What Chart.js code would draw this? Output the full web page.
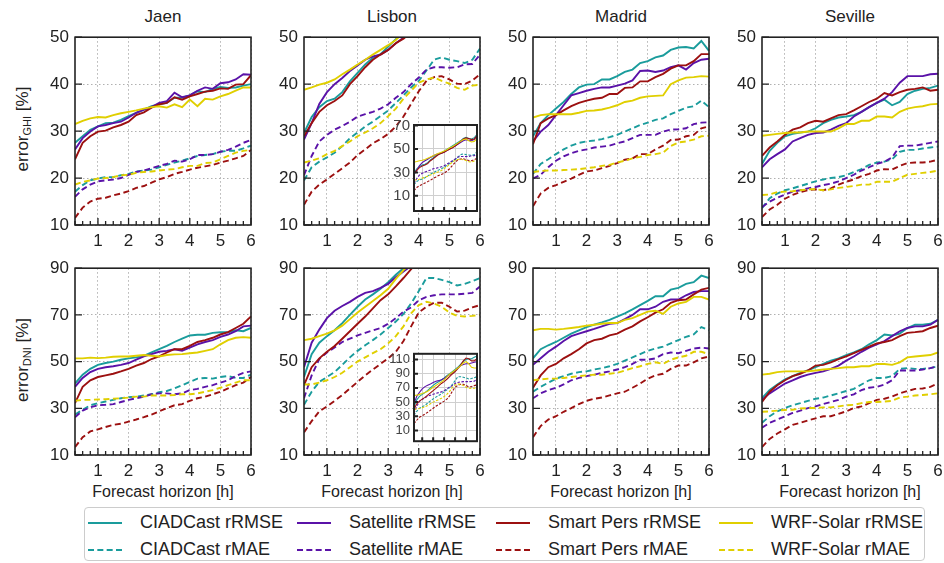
<!DOCTYPE html>
<html>
<head>
<meta charset="utf-8">
<script src="https://cdn.jsdelivr.net/npm/chart.js@4.4.1/dist/chart.umd.min.js"></script>
<style>
  body { margin: 0; background: #fff; font-family: 'Liberation Sans', Arial, sans-serif; color: #222; }
  #fig { position: relative; width: 944px; height: 563px; overflow: hidden; }
  canvas { position: absolute; }
  .site { position: absolute; top: 7px; width: 176px; text-align: center; font-size: 17px; }
  .xlab { position: absolute; top: 483px; width: 176px; text-align: center; font-size: 16px; }
  .ylab { position: absolute; left: 23px; font-size: 17px; white-space: nowrap; transform: translate(-50%, -50%) rotate(-90deg); }
  .ylab sub { font-size: 11px; vertical-align: -3px; }
  #legend { position: absolute; left: 84px; top: 507px; width: 841px; height: 54px; border: 1px solid #ccc; border-radius: 4px; box-sizing: border-box; }
  .item { position: absolute; font-size: 18px; line-height: 20px; white-space: nowrap; }
  .swatch { position: absolute; width: 34px; height: 0; top: 10px; border-top-width: 2px; }
</style>
</head>
<body>
<div id="fig">
  <div class="site" style="left:75px">Jaen</div>
  <div class="site" style="left:304px">Lisbon</div>
  <div class="site" style="left:533px">Madrid</div>
  <div class="site" style="left:762px">Seville</div>
  <div class="ylab" style="top:129px">error<sub>GHI</sub> [%]</div>
  <div class="ylab" style="top:360px">error<sub>DNI</sub> [%]</div>
  <div class="xlab" style="left:75px">Forecast horizon [h]</div>
  <div class="xlab" style="left:304px">Forecast horizon [h]</div>
  <div class="xlab" style="left:533px">Forecast horizon [h]</div>
  <div class="xlab" style="left:762px">Forecast horizon [h]</div>
  <div id="legend"></div>
</div>
<script>
// forecast horizons, 15 min steps
const HOURS = [0.25, 0.5, 0.75, 1, 1.25, 1.5, 1.75, 2, 2.25, 2.5, 2.75, 3, 3.25, 3.5, 3.75, 4, 4.25, 4.5, 4.75, 5, 5.25, 5.5, 5.75, 6];
const HOUR_TICKS = [1, 2, 3, 4, 5, 6];
const SITES = ['Jaen', 'Lisbon', 'Madrid', 'Seville'];
const MODELS = ['CIADCast', 'Satellite', 'Smart Pers', 'WRF-Solar'];

// Jaen GHI
const jaenGhiCiadRmse = [27.5,28.9,30.3,31.0,31.7,31.8,32.4,33.2,33.9,34.6,35.3,35.7,36.0,37.1,37.1,37.6,38.5,38.3,39.0,39.4,39.2,39.3,39.7,40.0];
const jaenGhiCiadMae  = [17.1,18.5,19.5,19.9,20.2,20.2,20.6,20.9,21.4,21.6,21.8,22.3,22.8,23.3,23.7,24.2,24.7,24.9,25.1,25.6,25.8,25.8,26.3,26.9];
const jaenGhiSatRmse  = [26.1,28.5,29.9,31.0,31.3,31.7,32.0,32.9,33.9,34.6,35.1,36.0,36.4,38.2,37.2,37.6,38.6,39.3,39.0,40.2,40.4,41.0,42.1,42.0];
const jaenGhiSatMae   = [16.0,17.6,18.6,19.3,19.5,19.7,20.0,20.7,21.3,21.6,22.1,22.6,23.0,23.7,23.5,24.0,24.9,24.9,25.1,25.6,26.0,26.7,27.5,28.1];
const jaenGhiPersRmse = [24.0,27.5,28.9,29.9,30.1,30.8,31.3,32.0,33.4,34.0,35.0,35.7,36.0,37.2,36.7,37.4,37.9,38.4,38.6,39.1,39.0,39.9,40.0,41.9];
const jaenGhiPersMae  = [11.5,13.7,15.0,15.6,15.8,16.3,16.7,17.2,17.9,18.3,19.0,19.7,20.2,20.9,21.3,21.8,22.2,22.5,22.8,23.3,23.7,24.2,24.7,26.0];
const jaenGhiWrfRmse  = [31.5,32.2,32.7,33.0,32.9,33.4,33.8,34.1,34.4,34.8,35.1,35.3,35.0,35.7,35.1,36.7,35.3,36.9,36.7,37.4,37.9,38.6,39.3,39.3];
const jaenGhiWrfMae   = [18.6,19.2,19.5,19.9,20.0,20.2,20.6,20.7,21.1,21.3,21.4,21.6,21.8,21.9,22.3,22.6,22.6,23.2,23.3,24.0,24.7,25.4,25.8,26.0];

// Lisbon GHI
const lisbonGhiCiadRmse = [29.6,33.0,35.1,36.4,36.9,38.3,40.6,42.4,44.2,45.6,46.4,48.0,49.6,51.0,52.5,54.0,55.5,57.0,59.0,60.0,59.0,58.5,59.5,62.5];
const lisbonGhiCiadMae  = [19.5,22.3,23.5,24.4,25.4,26.8,28.5,29.7,31.0,32.0,33.2,34.4,36.0,37.6,39.3,40.7,42.9,45.2,45.7,45.2,44.9,44.5,45.2,47.6];
const lisbonGhiSatRmse  = [28.2,31.7,35.8,38.3,40.0,41.3,42.8,44.0,45.2,45.9,46.3,47.3,48.7,49.9,51.0,52.5,54.0,55.5,57.0,58.0,57.5,57.0,58.0,61.0];
const lisbonGhiSatMae   = [20.6,24.7,27.8,29.2,30.3,31.1,32.0,33.1,33.6,34.1,34.8,35.7,37.1,38.3,40.0,41.4,43.1,43.6,43.6,43.5,43.6,44.2,44.3,46.3];
const lisbonGhiPersRmse = [28.9,31.7,34.1,35.5,36.4,37.6,40.0,41.7,43.6,45.2,46.3,47.3,48.7,49.7,51.0,52.5,54.5,56.5,58.5,59.5,59.0,58.0,58.5,61.5];
const lisbonGhiPersMae  = [14.3,17.1,18.6,19.7,20.9,22.1,23.3,24.9,26.1,27.4,28.3,29.4,31.0,33.1,35.8,38.5,40.7,41.5,41.7,41.0,40.1,40.0,40.8,42.1];
const lisbonGhiWrfRmse  = [38.8,39.3,39.9,40.3,41.0,42.1,43.1,44.2,45.2,46.3,47.3,48.3,49.4,51.0,52.0,53.5,55.0,56.5,58.0,58.5,57.0,56.0,56.5,59.0];
const lisbonGhiWrfMae   = [23.3,23.7,24.2,25.1,25.8,26.8,27.8,28.9,29.7,30.6,31.7,33.2,34.8,36.9,38.6,40.3,41.0,41.4,40.7,40.1,39.2,38.8,39.7,39.9];

// Madrid GHI
const madridGhiCiadRmse = [28.9,31.7,33.4,34.8,36.2,37.9,39.3,39.9,40.0,41.0,41.0,41.7,42.6,43.1,44.5,44.9,45.7,46.1,47.3,47.8,47.9,47.6,49.2,47.1];
const madridGhiCiadMae  = [20.9,23.0,24.0,25.1,26.1,26.9,27.5,27.8,28.0,28.3,28.7,29.2,29.9,30.6,31.3,31.8,32.4,32.7,33.6,34.3,35.0,35.3,36.5,35.1];
const madridGhiSatRmse  = [27.8,29.9,31.3,33.4,35.5,37.6,38.1,38.6,39.0,39.3,39.3,39.7,40.1,40.8,42.8,42.9,42.6,42.9,43.6,44.0,43.1,44.5,45.2,45.4];
const madridGhiSatMae   = [19.9,20.7,22.3,23.7,24.6,25.3,25.8,26.1,26.5,26.7,26.9,27.4,27.8,28.5,29.2,29.2,29.2,29.9,30.3,30.4,30.6,31.5,31.8,31.9];
const madridGhiPersRmse = [27.2,31.7,32.7,33.4,34.4,35.3,36.0,36.5,36.9,37.1,37.9,37.9,39.2,39.3,40.6,40.6,41.5,42.2,43.3,44.0,44.0,44.9,46.4,46.4];
const madridGhiPersMae  = [14.0,16.7,17.9,18.5,19.2,19.9,20.7,21.4,21.6,22.1,22.6,23.2,23.9,24.2,25.1,25.1,26.1,26.9,28.1,28.2,28.9,29.2,30.6,31.0];
const madridGhiWrfRmse  = [32.9,33.4,33.6,33.6,33.6,33.6,33.9,34.3,34.4,34.6,35.0,35.5,36.2,36.5,37.1,37.4,37.5,37.6,40.0,40.8,41.4,41.5,41.7,41.6];
const madridGhiWrfMae   = [21.3,21.5,21.6,21.6,21.7,21.8,21.9,22.1,22.3,22.6,22.8,23.3,23.7,24.2,24.5,24.9,25.1,25.4,26.8,27.6,27.8,28.2,28.9,29.0];

// Seville GHI
const sevilleGhiCiadRmse = [23.0,25.8,27.5,28.9,29.4,29.7,29.9,30.6,31.7,32.4,32.9,33.1,33.4,34.1,35.1,36.0,36.7,35.5,36.2,37.9,38.6,39.0,39.2,39.7];
const sevilleGhiCiadMae  = [13.6,15.7,16.7,17.4,17.8,18.3,18.8,19.3,19.7,20.0,20.2,20.6,21.3,21.9,22.8,23.3,23.5,24.0,25.6,26.0,26.0,26.3,26.5,26.7];
const sevilleGhiSatRmse  = [22.3,24.0,25.1,26.1,27.8,28.5,29.2,29.6,29.7,30.3,31.1,31.7,33.1,34.1,35.1,36.0,36.9,38.3,40.3,41.7,41.7,41.7,42.1,42.2];
const sevilleGhiSatMae   = [13.8,15.0,15.8,16.5,17.1,17.4,17.8,18.1,18.5,18.8,19.3,20.0,20.7,21.6,22.3,23.0,23.5,24.4,26.8,26.9,26.9,27.2,27.5,27.8];
const sevilleGhiPersRmse = [24.7,26.5,27.8,29.2,30.3,30.8,31.7,32.2,32.0,32.7,33.4,33.6,34.4,35.3,36.2,36.9,38.1,37.6,38.3,38.8,39.0,39.3,38.6,38.8];
const sevilleGhiPersMae  = [11.7,13.3,14.3,15.6,16.4,17.0,17.4,17.6,17.4,17.8,18.6,19.2,19.7,20.4,20.9,21.6,21.9,21.8,22.6,23.2,23.3,23.3,23.5,23.9];
const sevilleGhiWrfRmse  = [29.0,29.2,29.4,29.6,29.7,29.7,29.9,29.9,29.9,29.9,30.6,31.5,31.5,32.2,32.2,33.1,33.1,32.9,34.1,34.8,35.1,35.3,35.7,35.8];
const sevilleGhiWrfMae   = [16.4,16.5,17.0,17.1,17.2,17.4,17.6,17.6,17.4,17.6,17.9,18.1,18.3,18.6,18.6,19.2,19.2,19.2,20.0,20.7,20.9,21.1,21.3,21.6];

// Jaen DNI
const jaenDniCiadRmse = [40.6,44.4,46.9,48.6,49.4,50.0,50.8,51.4,51.8,52.5,53.9,55.3,56.7,58.4,59.8,61.2,61.5,61.5,62.3,62.6,62.6,63.4,63.0,64.4];
const jaenDniCiadMae  = [27.3,29.4,31.3,32.2,32.9,33.6,34.3,34.8,35.0,35.5,36.0,36.9,37.4,38.5,39.9,41.3,42.7,43.0,42.7,43.4,43.8,43.0,43.0,44.4];
const jaenDniSatRmse  = [39.2,43.0,45.5,46.9,47.6,48.0,48.6,49.4,50.8,52.2,53.2,54.2,54.6,55.3,54.6,56.0,57.4,58.4,59.2,60.6,61.6,63.0,65.1,65.4];
const jaenDniSatMae   = [26.2,29.0,30.4,31.3,31.5,31.8,32.7,33.6,34.3,35.0,36.0,36.4,36.4,36.0,36.4,37.8,38.3,39.2,39.9,41.0,42.0,43.8,45.2,45.8];
const jaenDniPersRmse = [32.2,39.2,42.0,43.4,44.1,44.8,45.8,46.9,48.3,49.4,51.1,52.2,53.9,55.3,55.3,56.7,58.4,59.2,60.2,61.6,62.6,64.4,66.2,69.3];
const jaenDniPersMae  = [13.4,17.6,20.1,21.0,22.0,22.9,23.4,24.3,25.2,26.2,27.3,28.7,30.1,31.3,31.8,33.2,34.3,35.0,36.0,37.1,38.5,39.9,41.0,43.4];
const jaenDniWrfRmse  = [51.4,51.4,51.7,51.5,51.7,52.1,52.2,52.2,52.5,52.8,52.5,52.2,52.8,53.1,53.2,53.6,53.9,54.6,55.3,57.4,59.2,60.2,60.5,60.2];
const jaenDniWrfMae   = [33.2,33.6,33.6,33.8,33.9,34.1,34.3,34.6,35.0,35.0,35.5,35.5,35.5,35.7,36.0,36.0,36.4,37.1,37.8,38.8,39.9,41.0,42.0,42.0];

// Lisbon DNI
const lisbonDniCiadRmse = [43.4,53.2,58.1,60.9,63.4,66.5,70.0,73.5,76.6,78.8,81.2,84.0,87.2,90.0,93.0,96.0,99.0,103.0,107.0,110.0,111.0,111.0,113.0,115.0];
const lisbonDniCiadMae  = [31.5,37.1,41.3,43.4,45.5,48.6,51.8,54.6,57.0,59.2,61.6,64.4,67.2,70.4,74.9,80.2,85.8,85.8,85.0,84.0,82.6,83.3,84.4,85.8];
const lisbonDniSatRmse  = [47.6,58.1,63.7,68.6,71.8,73.8,75.6,77.7,79.4,80.2,81.6,83.3,86.1,88.6,91.0,94.0,98.0,101.0,103.0,104.0,104.0,105.0,106.0,107.0];
const lisbonDniSatMae   = [34.3,44.1,51.1,53.9,56.0,58.4,59.8,61.2,62.3,63.4,64.4,66.2,68.6,71.4,73.2,76.3,77.7,78.4,78.8,78.8,78.8,79.1,79.4,82.2];
const lisbonDniPersRmse = [39.9,47.6,51.4,54.2,56.7,59.8,63.0,66.2,69.3,72.8,76.3,78.8,82.2,85.8,89.6,93.0,97.0,102.0,108.0,112.0,111.0,108.0,108.0,111.0];
const lisbonDniPersMae  = [19.7,24.5,28.7,30.8,33.2,35.7,38.5,41.3,44.1,46.6,49.0,51.4,54.2,58.8,65.1,71.0,73.5,75.2,75.2,73.5,71.4,71.8,73.2,74.2];
const lisbonDniWrfRmse  = [59.2,59.8,60.9,62.0,63.4,65.4,68.2,71.0,73.5,76.0,78.4,81.2,85.4,89.2,92.0,95.0,98.0,101.0,105.0,107.0,104.0,99.0,98.0,98.0];
const lisbonDniWrfMae   = [40.2,40.2,41.0,42.0,43.4,45.2,47.6,50.0,51.8,53.6,55.3,57.8,60.9,65.1,70.7,74.2,75.6,74.9,73.5,71.0,69.6,69.3,69.6,70.0];

// Madrid DNI
const madridDniCiadRmse = [51.4,55.3,57.0,58.4,60.2,62.0,63.4,64.8,65.8,66.8,67.9,69.3,70.7,72.4,74.2,76.0,78.0,78.0,80.8,81.6,83.3,84.0,86.8,85.8];
const madridDniCiadMae  = [37.1,39.2,41.0,42.7,43.8,44.8,45.5,45.8,46.6,47.2,48.0,49.0,50.4,51.8,53.2,54.6,55.6,56.4,57.8,59.2,60.6,61.6,64.8,63.4];
const madridDniSatRmse  = [48.6,51.4,54.2,56.4,58.8,60.9,62.0,63.0,64.0,65.1,66.2,66.5,68.2,70.0,72.4,72.4,73.5,75.6,76.6,76.6,78.4,79.8,80.2,80.2];
const madridDniSatMae   = [34.3,36.4,37.8,38.8,40.2,42.0,43.0,43.8,44.4,45.2,45.8,46.6,47.6,49.0,50.8,50.8,51.4,53.2,53.9,53.6,54.6,55.6,56.0,55.6];
const madridDniPersRmse = [38.8,44.1,47.6,49.0,51.4,53.2,55.3,57.8,59.2,59.8,61.2,62.0,63.7,65.1,67.2,69.0,71.0,72.4,75.2,76.3,76.6,78.8,80.8,81.6];
const madridDniPersMae  = [17.6,22.4,25.2,26.6,28.5,30.1,31.8,33.2,34.1,34.6,35.5,36.4,37.1,38.8,40.6,42.7,44.1,44.8,46.9,48.3,48.3,49.7,51.4,52.2];
const madridDniWrfRmse  = [63.4,64.0,64.0,63.7,64.0,64.4,64.8,65.4,65.8,66.2,66.5,66.5,67.9,68.6,70.0,71.4,71.8,70.4,73.5,74.9,75.6,77.7,77.7,76.6];
const madridDniWrfMae   = [42.0,42.4,42.7,42.7,43.0,43.4,43.8,44.1,44.4,44.4,44.8,45.2,46.2,47.2,48.0,49.0,49.7,49.0,50.8,51.8,52.5,54.2,54.2,53.2];

// Seville DNI
const sevilleDniCiadRmse = [34.3,37.8,40.2,42.4,43.8,45.2,46.2,47.6,49.0,50.4,51.4,52.8,53.9,55.3,57.4,59.2,61.6,61.2,62.0,64.4,65.8,65.8,66.2,67.9];
const sevilleDniCiadMae  = [23.8,26.6,28.7,30.1,31.3,32.2,33.2,34.1,34.6,35.5,36.4,37.4,38.3,40.2,42.0,43.0,43.0,43.8,46.9,47.2,46.9,46.9,47.2,48.0];
const sevilleDniSatRmse  = [33.6,36.4,38.5,40.6,42.0,43.4,44.4,45.2,45.8,46.9,48.3,50.4,52.2,54.2,56.0,57.4,58.8,60.9,63.0,64.4,65.1,65.1,65.8,67.9];
const sevilleDniSatMae   = [21.7,23.8,25.2,26.6,28.0,29.0,30.1,30.8,31.8,32.7,33.6,35.0,36.0,37.8,38.8,39.2,40.2,42.0,46.2,46.2,46.2,46.6,47.2,48.0];
const sevilleDniPersRmse = [32.7,37.1,39.9,42.0,43.8,44.8,46.2,48.3,48.6,49.7,51.1,52.2,53.6,55.0,56.4,57.8,58.4,59.2,60.9,62.3,62.6,63.0,64.4,65.4];
const sevilleDniPersMae  = [13.4,16.9,19.2,21.0,22.9,23.8,24.8,25.7,26.6,26.6,27.6,28.7,30.1,30.8,32.2,33.6,34.1,35.0,36.4,37.4,38.3,38.5,39.2,40.6];
const sevilleDniWrfRmse  = [44.4,44.8,45.5,45.8,45.8,45.8,45.8,46.2,46.6,46.9,47.2,47.6,47.6,48.0,48.0,49.0,49.0,48.6,49.7,51.8,52.2,52.5,52.8,53.9];
const sevilleDniWrfMae   = [28.5,28.7,29.0,29.3,29.4,29.9,30.1,30.1,30.4,30.4,30.8,31.3,31.5,32.2,32.7,32.7,32.9,33.2,34.6,35.0,35.5,35.7,36.0,36.4];

// y ticks of each row and of the Lisbon zoom-out insets
const GHI_TICKS = [10, 20, 30, 40, 50];
const DNI_TICKS = [10, 30, 50, 70, 90];
const GHI_INSET_TICKS = [10, 30, 50, 70];
const DNI_INSET_TICKS = [10, 30, 50, 70, 90, 110];

// per panel: [rRMSE, rMAE] for each model, in MODELS order
const PANELS = [
  { row: 0, col: 0, series: [[jaenGhiCiadRmse, jaenGhiCiadMae], [jaenGhiSatRmse, jaenGhiSatMae], [jaenGhiPersRmse, jaenGhiPersMae], [jaenGhiWrfRmse, jaenGhiWrfMae]] },
  { row: 0, col: 1, series: [[lisbonGhiCiadRmse, lisbonGhiCiadMae], [lisbonGhiSatRmse, lisbonGhiSatMae], [lisbonGhiPersRmse, lisbonGhiPersMae], [lisbonGhiWrfRmse, lisbonGhiWrfMae]] },
  { row: 0, col: 2, series: [[madridGhiCiadRmse, madridGhiCiadMae], [madridGhiSatRmse, madridGhiSatMae], [madridGhiPersRmse, madridGhiPersMae], [madridGhiWrfRmse, madridGhiWrfMae]] },
  { row: 0, col: 3, series: [[sevilleGhiCiadRmse, sevilleGhiCiadMae], [sevilleGhiSatRmse, sevilleGhiSatMae], [sevilleGhiPersRmse, sevilleGhiPersMae], [sevilleGhiWrfRmse, sevilleGhiWrfMae]] },
  { row: 1, col: 0, series: [[jaenDniCiadRmse, jaenDniCiadMae], [jaenDniSatRmse, jaenDniSatMae], [jaenDniPersRmse, jaenDniPersMae], [jaenDniWrfRmse, jaenDniWrfMae]] },
  { row: 1, col: 1, series: [[lisbonDniCiadRmse, lisbonDniCiadMae], [lisbonDniSatRmse, lisbonDniSatMae], [lisbonDniPersRmse, lisbonDniPersMae], [lisbonDniWrfRmse, lisbonDniWrfMae]] },
  { row: 1, col: 2, series: [[madridDniCiadRmse, madridDniCiadMae], [madridDniSatRmse, madridDniSatMae], [madridDniPersRmse, madridDniPersMae], [madridDniWrfRmse, madridDniWrfMae]] },
  { row: 1, col: 3, series: [[sevilleDniCiadRmse, sevilleDniCiadMae], [sevilleDniSatRmse, sevilleDniSatMae], [sevilleDniPersRmse, sevilleDniPersMae], [sevilleDniWrfRmse, sevilleDniWrfMae]] }
];

const COLORS = ['#1a9c9c', '#5a12a8', '#9c1010', '#e0cf00'];

// layout (px)
const COL_X = [75, 304, 533, 762];
const PLOT_W = 176;
const ROW_Y = [33, 264];
const ROW_H = [192, 191];
const ROW_RANGE = [[10, 50], [10, 90]];
const ROW_TICKS = [GHI_TICKS, DNI_TICKS];

Chart.defaults.font.family = "'Liberation Sans', Arial, sans-serif";
Chart.defaults.color = '#222';
Chart.defaults.animation = false;

// frame around the plot area plus inward tick marks on the bottom and left
const frameTicks = {
  id: 'frameTicks',
  beforeDraw(chart, args, o) {
    if (!o.fill) return;
    const a = chart.chartArea, ctx = chart.ctx;
    ctx.save();
    ctx.fillStyle = '#fff';
    ctx.fillRect(a.left, a.top, a.right - a.left, a.bottom - a.top);
    ctx.restore();
  },
  afterDraw(chart, args, o) {
    const { ctx, chartArea: a, scales: { x, y } } = chart;
    ctx.save();
    ctx.strokeStyle = '#222';
    ctx.lineWidth = o.tickWidth;
    ctx.beginPath();
    o.xTicks.forEach(h => {
      const px = x.getPixelForValue(h);
      const len = Number.isInteger(h) ? o.major : o.minor;
      ctx.moveTo(px, a.bottom);
      ctx.lineTo(px, a.bottom - len);
    });
    y.ticks.forEach(t => {
      const py = y.getPixelForValue(t.value);
      ctx.moveTo(a.left, py);
      ctx.lineTo(a.left + o.major, py);
    });
    ctx.stroke();
    ctx.lineWidth = o.frame;
    ctx.strokeRect(a.left, a.top, a.right - a.left, a.bottom - a.top);
    ctx.restore();
  }
};

function makeDatasets(series, thin) {
  const sets = [];
  series.forEach((pair, m) => {
    pair.forEach((vals, k) => {
      sets.push({
        label: MODELS[m] + (k === 0 ? ' rRMSE' : ' rMAE'),
        data: vals.map((v, i) => ({ x: HOURS[i], y: v })),
        borderColor: COLORS[m],
        borderWidth: thin ? 1.1 : 1.9,
        borderDash: k === 1 ? (thin ? [2.5, 1.5] : [6, 3.5]) : [],
        pointRadius: 0,
        tension: 0,
        fill: false
      });
    });
  });
  // first dataset is painted on top in Chart.js, keep the later series above
  return sets.reverse();
}

function addCanvas(left, top, w, h) {
  const c = document.createElement('canvas');
  c.width = w; c.height = h;
  c.style.left = left + 'px';
  c.style.top = top + 'px';
  c.style.width = w + 'px';
  c.style.height = h + 'px';
  document.getElementById('fig').appendChild(c);
  return c;
}

// inset = font size of the inset tick labels, or 0 for a main panel
function makeChart(box, series, yRange, yTicks, inset) {
  const axisW = inset ? 30 : 44, padT = inset ? 8 : 12, padR = inset ? 3 : 12, axisH = inset ? 2 : 28;
  const canvas = addCanvas(box.left - axisW, box.top - padT, axisW + box.w + padR, padT + box.h + axisH);
  const gridColor = inset ? '#cfcfcf' : '#b0b0b0';
  const dash = inset ? [] : [1.5, 2.5];
  return new Chart(canvas, {
    type: 'line',
    data: { datasets: makeDatasets(series, !!inset) },
    options: {
      responsive: false,
      devicePixelRatio: 1,
      layout: { padding: { top: padT, right: padR, left: 0, bottom: 0 } },
      plugins: {
        legend: { display: false },
        tooltip: { enabled: false },
        frameTicks: inset
          ? { fill: true, xTicks: HOUR_TICKS, major: 4, minor: 0, tickWidth: 2, frame: 2 }
          : { fill: false, xTicks: HOURS, major: 7, minor: 4, tickWidth: 1.3, frame: 1.6 }
      },
      scales: {
        x: {
          type: 'linear',
          min: 0.25,
          max: 6,
          afterBuildTicks: s => { s.ticks = HOUR_TICKS.map(v => ({ value: v })); },
          afterFit: s => { s.height = axisH; },
          ticks: { display: !inset, autoSkip: false, maxRotation: 0, padding: 6, font: { size: 17 }, color: '#222' },
          grid: { color: gridColor, lineWidth: 1, drawTicks: false },
          border: { display: false, dash: dash }
        },
        y: {
          min: yRange[0],
          max: yRange[1],
          afterBuildTicks: s => { s.ticks = yTicks.map(v => ({ value: v })); },
          afterFit: s => { s.width = axisW; },
          ticks: { autoSkip: false, padding: inset ? 4 : 6, font: { size: inset || 17 }, color: inset ? '#444' : '#222' },
          grid: { color: gridColor, lineWidth: 1, drawTicks: false },
          border: { display: false, dash: dash }
        }
      }
    },
    plugins: [frameTicks]
  });
}

PANELS.forEach(p => {
  const box = { left: COL_X[p.col], top: ROW_Y[p.row], w: PLOT_W, h: ROW_H[p.row] };
  makeChart(box, p.series, ROW_RANGE[p.row], ROW_TICKS[p.row], 0);
});

// Lisbon insets with the full value range
makeChart({ left: 414, top: 120, w: 63, h: 102 }, PANELS[1].series, [-3, 70.5], GHI_INSET_TICKS, 15);
makeChart({ left: 414, top: 350, w: 63, h: 101 }, PANELS[5].series, [-5, 118], DNI_INSET_TICKS, 13);

// legend, column-wise like the plotted order
const legend = document.getElementById('legend');
const LEG_TEXT_X = [55, 264, 463, 686];
MODELS.forEach((m, i) => {
  ['rRMSE', 'rMAE'].forEach((kind, k) => {
    const item = document.createElement('div');
    item.className = 'item';
    item.style.left = (LEG_TEXT_X[i] - 52) + 'px';
    item.style.top = (k === 0 ? 4 : 31) + 'px';
    const sw = document.createElement('span');
    sw.className = 'swatch';
    sw.style.left = '0px';
    sw.style.borderTopStyle = k === 0 ? 'solid' : 'dashed';
    sw.style.borderTopColor = COLORS[i];
    const tx = document.createElement('span');
    tx.style.marginLeft = '52px';
    tx.textContent = m + ' ' + kind;
    item.appendChild(sw);
    item.appendChild(tx);
    legend.appendChild(item);
  });
});
</script>
</body>
</html>
